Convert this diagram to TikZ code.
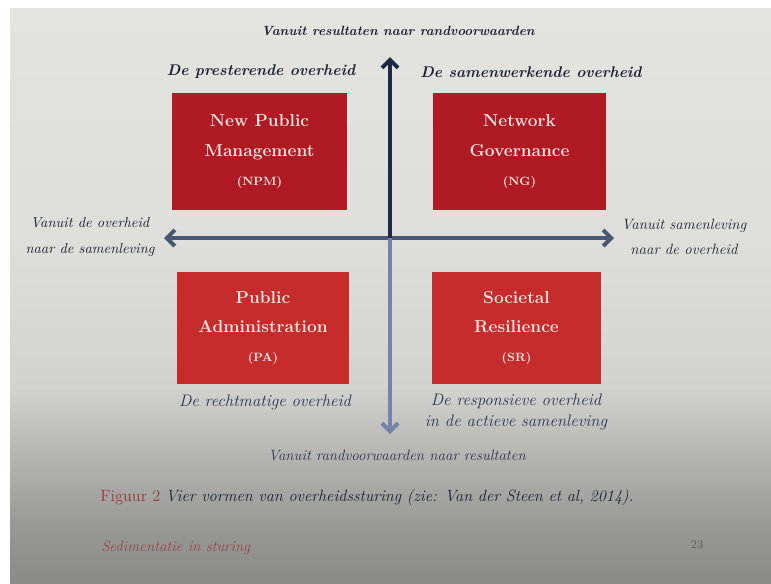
\documentclass[tikz,border=0pt]{standalone}
\usepackage{fontspec}
\usetikzlibrary{arrows.meta}
\definecolor{boxtop}{HTML}{B01A24}
\definecolor{boxbot}{HTML}{C62C2C}
\definecolor{boxtxt}{HTML}{F6E4DE}
\definecolor{ink}{HTML}{1C2030}
\definecolor{navy}{HTML}{2C3452}
\definecolor{axtop}{HTML}{1F2845}
\definecolor{axbot}{HTML}{7683A8}
\definecolor{axhor}{HTML}{4B5670}
\definecolor{capred}{HTML}{9A3A3A}
\definecolor{pg0}{HTML}{8A8A88}
\definecolor{pg1}{HTML}{989896}
\definecolor{pg2}{HTML}{B4B4B1}
\definecolor{pg3}{HTML}{D2D2CE}
\definecolor{pg4}{HTML}{DEDEDA}
\definecolor{pg5}{HTML}{E3E3E0}
\pgfdeclareverticalshading{pageshade}{100bp}{color(0bp)=(pg0); color(25bp)=(pg0); color(30bp)=(pg1); color(36bp)=(pg2); color(42bp)=(pg3); color(55bp)=(pg4); color(75bp)=(pg5); color(100bp)=(pg5)}
\begin{document}
\begin{tikzpicture}[x=0.75pt,y=-0.75pt,
  quad/.style={draw=none,align=center,text=boxtxt,
    font=\fontsize{13}{22}\selectfont\bfseries,inner sep=0pt},
  head/.style={text=ink,font=\fontsize{11.6}{15}\selectfont\bfseries\itshape},
  axlabel/.style={text=ink,font=\fontsize{10.8}{19}\selectfont\itshape,align=center},
  sublabel/.style={text=navy,font=\fontsize{12.5}{16}\selectfont\itshape,align=center},
  axis/.style={line width=3.2pt,-{Straight Barb[length=6pt,width=12pt,line width=3pt]}}
  ]
\useasboundingbox (0,0) rectangle (771,583);
\fill[white] (0,0) rectangle (771,583);
\shade[shading=pageshade] (10,8) rectangle (771,583);
% centre and axis ends
\coordinate (c) at (390,238);
\coordinate (top) at (390,57);
\coordinate (bot) at (390,434);
\coordinate (lft) at (164,238);
\coordinate (rgt) at (614,238);
\draw[axis,axhor] (c) -- (lft);
\draw[axis,axhor] (c) -- (rgt);
\draw[axis,axtop] (c) -- (top);
\draw[axis,axbot,line width=2.6pt] (c) -- (bot);
% boxes
\node[quad,fill=boxtop,minimum width=131pt,minimum height=88pt] (npm) at (259.5,151.5)
  {New Public\\Management\\{\small(NPM)}};
\node[quad,fill=boxtop,minimum width=130pt,minimum height=88pt] (ng) at (519.5,151.5)
  {Network\\Governance\\{\small(NG)}};
\node[quad,fill=boxbot,minimum width=129pt,minimum height=84pt] (pa) at (263,328)
  {Public\\Administration\\{\small(PA)}};
\node[quad,fill=boxbot,minimum width=127pt,minimum height=84pt] (sr) at (516.5,328)
  {Societal\\Resilience\\{\small(SR)}};
% headings
\node[head] (hpre) at (261,72) {De presterende overheid};
\node[head] (hsam) at (531,72) {De samenwerkende overheid};
\node[axlabel,font=\fontsize{10}{12}\selectfont\bfseries\itshape] (ltop) at (398,31) {Vanuit resultaten naar randvoorwaarden};
\node[axlabel] (lleft) at (90,237) {Vanuit de overheid\\naar de samenleving};
\node[axlabel,font=\fontsize{11.2}{19}\selectfont\itshape] (lright) at (684,237) {Vanuit samenleving\\naar de overheid};
\node[sublabel] (lpa) at (265,402) {De rechtmatige overheid};
\node[sublabel] (lsr) at (516,412) {De responsieve overheid\\in de actieve samenleving};
\node[axlabel,text=navy,font=\fontsize{11.2}{12}\selectfont\itshape] (lbot) at (397,455) {Vanuit randvoorwaarden naar resultaten};
% caption and footer
\node[anchor=west,text=ink,font=\fontsize{12.2}{14}\selectfont,inner sep=0pt] (cap) at (100,497)
  {\textcolor{capred}{Figuur 2} \textit{Vier vormen van overheidssturing (zie: Van der Steen et al, 2014).}};
\node[anchor=west,text=capred!80!gray,font=\fontsize{11.2}{12}\selectfont\itshape,inner sep=0pt] (foot) at (101,548) {Sedimentatie in sturing};
\node[text=gray!75!black,font=\fontsize{9}{11}\selectfont,inner sep=0pt] (pg) at (697,545) {23};
\end{tikzpicture}
\end{document}
